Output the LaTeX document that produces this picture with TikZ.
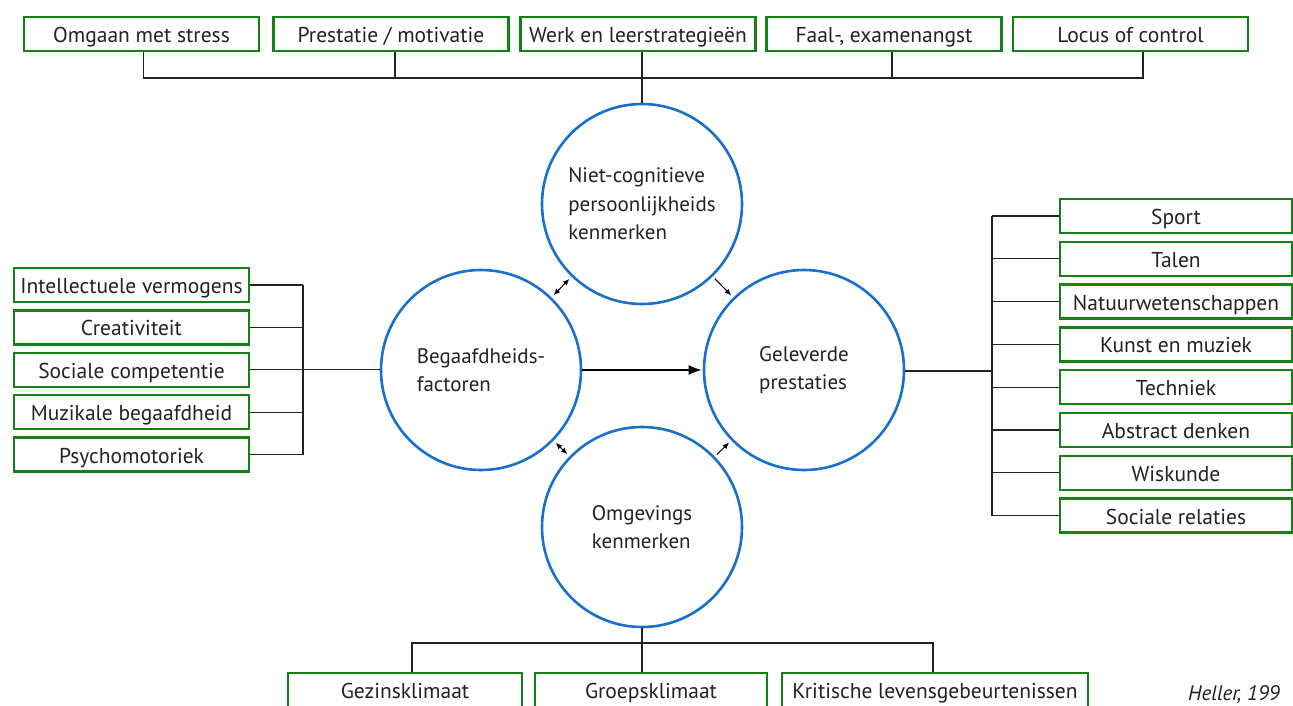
\documentclass[tikz,border=0pt]{standalone}
\usepackage{fontspec}
\setmainfont{PT Sans}
\usetikzlibrary{arrows.meta}
\definecolor{boxgreen}{RGB}{22,128,22}
\definecolor{ringblue}{RGB}{24,112,204}
\definecolor{inkgrey}{RGB}{34,34,34}
\begin{document}
\begin{tikzpicture}[x=1pt,y=-1pt,
  gbox/.style={draw=boxgreen, line width=2.4pt, fill=white, inner sep=0pt,
    minimum height=34pt, text height=17pt, text depth=0pt,
    font=\fontsize{21.5}{24}\selectfont, text=inkgrey},
  ring/.style={circle, draw=ringblue, line width=2.6pt, minimum size=200pt,
    inner sep=0pt, align=left, font=\fontsize{21}{28.5}\selectfont, text=inkgrey},
  link/.style={draw=inkgrey, line width=1.2pt},
  pair/.style={line width=1pt, {Latex[length=6.5pt,width=5.5pt]}-{Latex[length=6.5pt,width=5.5pt]},
    shorten <=3pt, shorten >=3pt},
  toward/.style={line width=1pt, -{Latex[length=6.5pt,width=5.5pt]},
    shorten <=3pt, shorten >=3pt}]
\useasboundingbox[fill=white] (0,0) rectangle (1293,705);

% the four central factors
\node[ring] (T) at (642,204) {Niet-cognitieve\\persoonlijkheids\\kenmerken};
\node[ring] (L) at (481,370) {Begaafdheids-\\factoren};
\node[ring] (R) at (804,370) {Geleverde\\prestaties};
\node[ring] (B) at (642,527) {Omgevings\\kenmerken};

\draw[line width=1.7pt, -{Latex[length=13pt,width=10pt]}, shorten >=1pt] (L) -- (R);
\draw[pair] (L) -- (T);
\draw[pair] (L) -- (B);
\draw[toward] (T) -- (R);
\draw[toward] (B) -- (R);

% non-cognitive personality traits (top row)
\node[gbox, minimum width=235pt] (t1) at (141.5,34) {Omgaan met stress};
\node[gbox, minimum width=235pt] (t2) at (391,34) {Prestatie / motivatie};
\node[gbox, minimum width=235pt] (t3) at (638,34) {Werk en leerstrategieën};
\node[gbox, minimum width=235pt] (t4) at (884,34) {Faal-, examenangst};
\node[gbox, minimum width=235pt] (t5) at (1130.5,34) {Locus of control};
\coordinate (tj) at (642,78);
\coordinate (t1f) at ([xshift=2pt]t1.south);
\coordinate (t2f) at ([xshift=4pt]t2.south);
\coordinate (t4f) at ([xshift=8pt]t4.south);
\coordinate (t5f) at ([xshift=12.5pt]t5.south);
\draw[link] (t1f) |- (tj) -| (t5f);
\draw[link] (t2f) -- (t2f |- tj);
\draw[link] (t4f) -- (t4f |- tj);
\draw[link] (t3.south -| T) -- (T.north);

% talent factors (left column)
\node[gbox, minimum width=235pt] (l1) at (131.5,285) {Intellectuele vermogens};
\node[gbox, minimum width=235pt] (l2) at (131.5,327.4) {Creativiteit};
\node[gbox, minimum width=235pt] (l3) at (131.5,369.8) {Sociale competentie};
\node[gbox, minimum width=235pt] (l4) at (131.5,412.2) {Muzikale begaafdheid};
\node[gbox, minimum width=235pt] (l5) at (131.5,454.6) {Psychomotoriek};
\coordinate (lj) at (303,369.8);
\foreach \k in {1,2,4,5} \draw[link] (l\k.east) -- (l\k.east -| lj);
\draw[link] (l1.east -| lj) -- (l5.east -| lj);
\draw[link] (l3.east) -- (l3.east -| L.west);

% performance domains (right column)
\node[gbox, minimum width=232pt] (r1) at (1176,216) {Sport};
\node[gbox, minimum width=232pt] (r2) at (1176,258.8) {Talen};
\node[gbox, minimum width=232pt] (r3) at (1176,301.6) {Natuurwetenschappen};
\node[gbox, minimum width=232pt] (r4) at (1176,344.4) {Kunst en muziek};
\node[gbox, minimum width=232pt] (r5) at (1176,387.2) {Techniek};
\node[gbox, minimum width=232pt] (r6) at (1176,430) {Abstract denken};
\node[gbox, minimum width=232pt] (r7) at (1176,472.8) {Wiskunde};
\node[gbox, minimum width=232pt] (r8) at (1176,515.6) {Sociale relaties};
\coordinate (rj) at (992,371);
\foreach \k in {1,...,8} \draw[link] (r\k.west) -- (r\k.west -| rj);
\draw[link] (r1.west -| rj) -- (r8.west -| rj);
\draw[link] (R.east |- rj) -- (rj);

% environmental factors (bottom row)
\node[gbox, minimum width=234pt] (b1) at (405,690) {Gezinsklimaat};
\node[gbox, minimum width=232pt] (b2) at (651,690) {Groepsklimaat};
\node[gbox, minimum width=306pt] (b3) at (935,690) {Kritische levensgebeurtenissen};
\coordinate (bj) at (642,643);
\coordinate (b1f) at ([xshift=7pt]b1.north);
\coordinate (b3f) at ([xshift=-2pt]b3.north);
\draw[link] (b1f) |- (bj) -| (b3f);
\draw[link] (B.south) -- (B.south |- b2.north);

\node[anchor=base west, inner sep=0pt, text=inkgrey,
  font=\fontsize{21}{24}\itshape] (src) at (1188,700) {Heller, 199};
\end{tikzpicture}
\end{document}
